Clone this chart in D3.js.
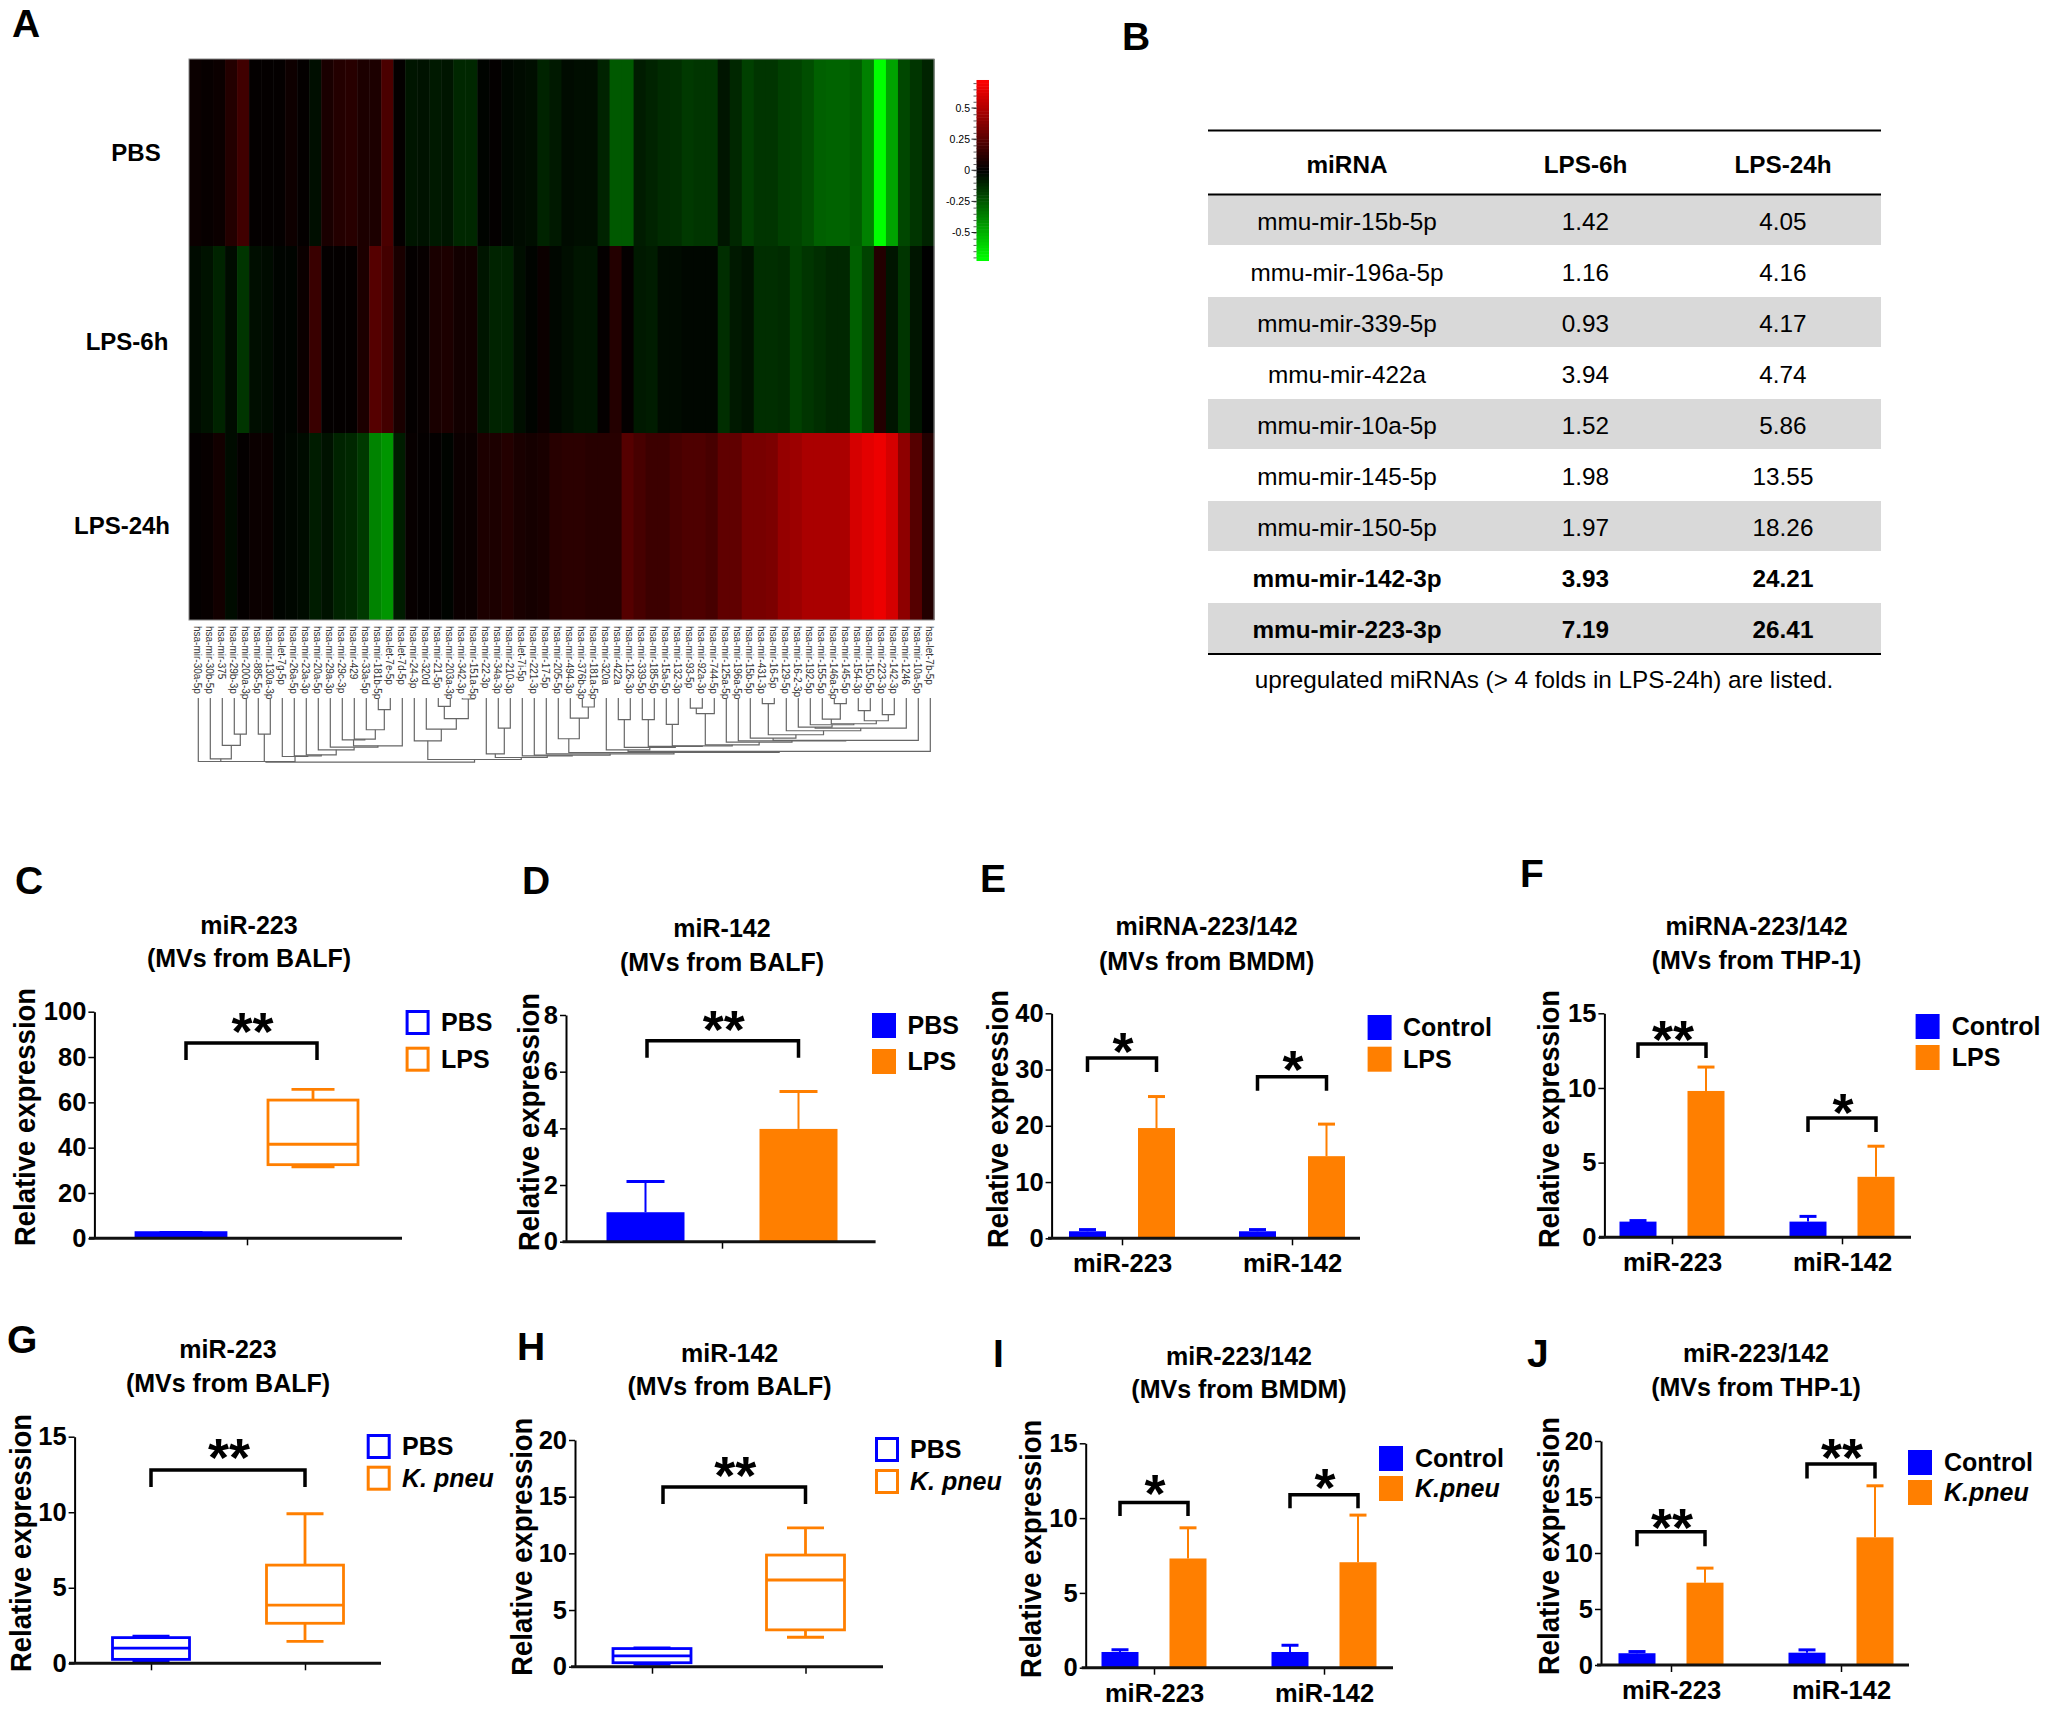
<!DOCTYPE html>
<html>
<head>
<meta charset="utf-8">
<script src="https://cdn.jsdelivr.net/npm/d3@7"></script>
<style>
	body { margin: 0; background: #fff; }
	svg { display: block; }
	text { font-family: "Liberation Sans", Arial, sans-serif; fill: #000; }
	.axis text { font-size: 25.5px; font-weight: bold; }
	.leaf { font-size: 10px; fill: #333; }
</style>
</head>
<body>
<svg id="fig" width="2050" height="1712"></svg>
<script>
// heatmap values, one per miRNA
var mirnas = ["30a-5p","30b-5p","375","29b-3p","200a-3p","885-5p","130a-3p","let-7g-5p","26a-5p","23a-3p","20a-5p","29a-3p","29c-3p","429","33a-5p","181b-5p","let-7e-5p","let-7d-5p","24-3p","320d","21-5p","203a-3p","342-3p","151a-5p","22-3p","34a-3p","210-3p","let-7i-5p","221-3p","17-5p","205-5p","494-3p","376b-3p","181a-5p","320a","422a","126-3p","339-5p","185-5p","15a-5p","132-3p","93-5p","92a-3p","744-5p","125a-5p","196a-5p","15b-5p","431-3p","16-5p","129-5p","16-2-3p","192-5p","155-5p","146a-5p","145-5p","154-3p","150-5p","223-3p","142-3p","1246","10a-5p","let-7b-5p"];
var heatRows = ["PBS", "LPS-6h", "LPS-24h"];
var heatPbs = [.03,.02,.03,.1,.18,.01,.01,.01,.04,.01,-.04,.07,.1,.11,.08,.08,.21,.01,-.06,-.05,-.07,-.06,-.11,-.11,-.01,.01,-.02,-.03,-.04,-.1,-.07,-.03,-.04,-.04,-.1,-.25,-.25,-.08,-.1,-.12,-.13,-.16,-.15,-.15,-.06,-.11,-.18,-.15,-.15,-.18,-.19,-.22,-.27,-.28,-.28,-.26,-.36,-.72,-.46,-.2,-.15,-.1];
var heat6h = [-.03,-.05,-.1,-.03,-.15,-.04,-.03,-.01,-.01,.03,.16,.01,.01,.01,.08,.24,.19,.07,.01,.02,.07,.08,.05,.05,-.06,-.1,-.1,-.04,-.01,.03,-.02,-.04,-.06,-.06,.01,.1,.01,-.07,-.08,-.03,-.03,-.02,-.02,-.02,-.13,-.07,-.05,-.13,-.13,-.12,-.18,-.15,-.13,-.11,-.11,-.27,-.19,.1,-.06,-.15,-.06,0];
var heat24h = [.01,.02,.05,-.03,.01,.03,.03,-.01,-.02,-.03,-.08,-.05,-.1,-.11,-.16,-.37,-.42,-.08,.02,.01,.01,-.01,.03,.03,.08,.08,.1,.07,.06,.07,.11,.12,.12,.11,.11,.11,.24,.2,.17,.17,.2,.22,.22,.2,.27,.27,.34,.34,.35,.42,.44,.48,.48,.48,.48,.6,.64,.67,.6,.4,.24,.1];
var colorTicks = [0.5, 0.25, 0, -0.25, -0.5];

// dendrogram: [merge height, left child, right child], a plain number is a leaf
var treeFirst = [455, 0, [447, 1, [407, 2, [373, 3, 4]]]];
var treeSecond = [373, 5, 6];
var treeThird = [440, 7, [438, 8, [435, 9, [420, 10, [412, 11, [408, [390, 12, [388, 13, [360, 14, [300, 15, 16]]]], 17]]]]]];
var treeFourth = [393, 18, [358, 19, [327, [290, 20, 21], [268, 22, 23]]]];
var treeFifth = [432, 24, [355, 25, 26]];
var treeTail = [392, [385, 46, [375, [282, 47, 48], [363, 49, [355, [352, 50, [345, 51, [342, [328, 52, [282, 53, 54]], [333, [303, 55, 56], [315, 57, 58]]]]], 59]]]], 60];
var treeMiddle = [405, [312, [295, 41, 42], 43], [397, 44, [393, 45, treeTail]]];
var treeRight = [428, [387, 30, [325, 31, [292, 32, 33]]], [425, [420, 34, [413, [330, 35, 36], [410, [330, 37, 38], [408, [344, 39, 40], treeMiddle]]]], 61]];
var treeRoot = [457, [455, [455, treeFirst, treeSecond], treeThird], [449, treeFourth, [443, treeFifth, [438, 27, [436, 28, [432, 29, treeRight]]]]]];

// table B
var tableHead = ["miRNA", "LPS-6h", "LPS-24h"];
var tableMirna = ["mmu-mir-15b-5p","mmu-mir-196a-5p","mmu-mir-339-5p","mmu-mir-422a","mmu-mir-10a-5p","mmu-mir-145-5p","mmu-mir-150-5p","mmu-mir-142-3p","mmu-mir-223-3p"];
var table6h = ["1.42","1.16","0.93","3.94","1.52","1.98","1.97","3.93","7.19"];
var table24h = ["4.05","4.16","4.17","4.74","5.86","13.55","18.26","24.21","26.41"];

// box plots: low whisker, q1, median, q3, high whisker
var cPbs = [1.6, 1, 2, 2.5, 2.6];
var cLps = [31.5, 32.5, 41.5, 61, 65.7];
var gPbs = [0.15, 0.26, 1, 1.7, 1.8];
var gPneu = [1.45, 2.65, 3.85, 6.5, 9.9];
var hPbs = [0.2, 0.35, 0.95, 1.6, 1.65];
var hPneu = [2.6, 3.25, 7.65, 9.85, 12.25];

// bars: mean and top of the error bar
var dMean = [1.04, 3.98], dErr = [2.12, 5.3];
var miGroups = ["miR-223", "miR-142"];
var eControl = [1.25, 1.25], eControlErr = [1.55, 1.55], eLps = [19.6, 14.6], eLpsErr = [25.2, 20.3];
var fControl = [1.05, 1.05], fControlErr = [1.12, 1.4], fLps = [9.8, 4.05], fLpsErr = [11.4, 6.1];
var iControl = [1.05, 1.05], iControlErr = [1.2, 1.5], iPneu = [7.3, 7.05], iPneuErr = [9.35, 10.2];
var jControl = [1.05, 1.1], jControlErr = [1.2, 1.35], jPneu = [7.35, 11.4], jPneuErr = [8.65, 16];

var blue = "#0000ff", orange = "#ff7f00";
var svg = d3.select("#fig");

// text helper
function put_text(parent, str, x, y, size, bold, anchor) {
	return parent.append("text")
		.attr("x", x)
		.attr("y", y)
		.attr("font-size", size)
		.attr("font-weight", bold ? "bold" : "normal")
		.attr("text-anchor", anchor || "middle")
		.text(str);
}

// ---- letters of the panels
var letters = [["A",12,37],["B",1122,50],["C",15,894],["D",522,894],["E",980,892],["F",1520,887],["G",7,1353],["H",517,1360],["I",993,1367],["J",1527,1367]];
letters.forEach(function(d) { put_text(svg, d[0], d[1], d[2], 39, true, "start"); });

// ---- panel A
function draw_heatmap() {
	var x = d3.scaleBand().domain(d3.range(mirnas.length)).range([189, 934]);
	var y = d3.scaleBand().domain(heatRows).range([59, 620]);
	var maxV = 0.72;
	var color = d3.scaleLinear().domain([-maxV, 0, maxV]).range(["#00ff00", "#000000", "#ff0000"]);
	var rows = [heatPbs, heat6h, heat24h];

	rows.forEach(function(vals, r) {
		svg.append("g").selectAll("rect")
			.data(vals)
		.enter().append("rect")
			.attr("x", function(d, i) { return x(i); })
			.attr("y", y(heatRows[r]))
			.attr("width", x.bandwidth() + 0.5)
			.attr("height", y.bandwidth())
			.attr("fill", function(d) { return color(d); });
	});
	svg.append("rect")
		.attr("x", 189).attr("y", 59).attr("width", 745).attr("height", 561)
		.attr("fill", "none").attr("stroke", "#888").attr("stroke-width", 1);

	var rowText = [[136, 161], [127, 350], [122, 534]];
	heatRows.forEach(function(d, i) { put_text(svg, d, rowText[i][0], rowText[i][1], 24, true); });

	// leaf labels and dendrogram
	var leaf = d3.scalePoint().domain(d3.range(mirnas.length)).range([198.3, 930.3]);
	svg.append("g").selectAll("text")
		.data(mirnas)
	.enter().append("text")
		.attr("class", "leaf")
		.attr("transform", function(d, i) { return "translate(" + (leaf(i) - 4) + ",626) rotate(90)"; })
		.text(function(d) { return (d.indexOf("let") == 0 ? "hsa-" : "hsa-mir-") + d; });

	var h = d3.scaleLinear().domain([265, 455]).range([698, 761.5]);
	var tree = svg.append("g").attr("fill", "none").attr("stroke", "#666").attr("stroke-width", 1.2);
	function walk(node) {
		if (typeof node == "number") return { x: leaf(node), y: h(265) };
		var a = walk(node[1]), b = walk(node[2]), top = h(node[0]);
		tree.append("path").attr("d", "M" + a.x + "," + a.y + "V" + top + "H" + b.x + "V" + b.y);
		return { x: (a.x + b.x) / 2, y: top };
	}
	walk(treeRoot);

	// colour bar
	var cy = d3.scaleLinear().domain([-0.5, 0.5]).range([232.5, 108]);
	var steps = d3.range(-0.725, 0.725, 0.025);
	svg.append("g").selectAll("rect")
		.data(steps)
	.enter().append("rect")
		.attr("x", 976.5)
		.attr("y", function(d) { return cy(d + 0.025); })
		.attr("width", 12.5)
		.attr("height", cy(0) - cy(0.025) + 0.5)
		.attr("fill", function(d) { return color(d + 0.0125); });
	var ca = svg.append("g").attr("transform", "translate(976.5,0)");
	ca.call(d3.axisLeft(cy).tickValues(d3.range(-0.7, 0.71, 0.05)).tickSize(3).tickFormat(""));
	ca.select(".domain").remove();
	ca.selectAll("line").attr("stroke", "#333").attr("stroke-width", 0.8);
	colorTicks.forEach(function(d) {
		ca.append("line").attr("x1", -5).attr("x2", 0).attr("y1", cy(d)).attr("y2", cy(d)).attr("stroke", "#222");
		put_text(ca, d, -6.5, cy(d) + 3.5, 10.5, false, "end").attr("fill", "#222");
	});
}
draw_heatmap();

// ---- panel B
function draw_table() {
	var left = 1208, right = 1881, top = 195, rowH = 51;
	var cols = [1347, 1585.5, 1783];
	tableHead.forEach(function(d, i) { put_text(svg, d, cols[i], 173, 24.3, true); });
	tableMirna.forEach(function(d, i) {
		var y = top + i * rowH, bold = i >= 7;
		if (i % 2 == 0) svg.append("rect").attr("x", left).attr("y", y).attr("width", right - left).attr("height", rowH - 1).attr("fill", "#d9d9d9");
		put_text(svg, d, cols[0], y + 34.5, 24.3, bold);
		put_text(svg, table6h[i], cols[1], y + 34.5, 24.3, bold);
		put_text(svg, table24h[i], cols[2], y + 34.5, 24.3, bold);
	});
	[130.5, 194.5, 654].forEach(function(y) {
		svg.append("line").attr("x1", left).attr("x2", right).attr("y1", y).attr("y2", y).attr("stroke", "#000").attr("stroke-width", 2);
	});
	put_text(svg, "upregulated miRNAs (> 4 folds in LPS-24h) are listed.", 1544, 688, 24.3, false);
}
draw_table();

// ---- panels C to J
function bars_of(groups, names, means, errs) {
	var out = [];
	groups.forEach(function(g, i) {
		names.forEach(function(s, k) {
			out.push({ group: g, series: s, color: k ? orange : blue, mean: means[k][i], err: errs[k][i] });
		});
	});
	return out;
}

var panels = [
	{ title: ["miR-223", "(MVs from BALF)"], tx: 249, ty: [925, 958], ylabel: [24, 1117], ymax: 100, yticks: [0,20,40,60,80,100],
	  y0: 1238.3, y1: 1011.7, ax: 94.4, xr: [89, 402], groups: ["all"], gx: [247, 247], names: ["PBS", "LPS"], off: 66, blank: true, w: 90, cap: 43,
	  boxes: [{ group: "all", series: "PBS", color: blue, v: cPbs }, { group: "all", series: "LPS", color: orange, v: cLps }],
	  brackets: [{ v: 86.2, drop: 17, a: ["all", "PBS"], b: ["all", "LPS"], stars: "**", up: 21, inL: 5, inR: 4 }],
	  legend: [405.6, [1010, 1046.7], 441] },
	{ title: ["miR-142", "(MVs from BALF)"], tx: 722, ty: [928, 962], ylabel: [528, 1122], ymax: 8, yticks: [0,2,4,6,8],
	  y0: 1241.7, y1: 1015, ax: 566, xr: [562.5, 875.6], groups: ["all"], gx: [722, 722], names: ["PBS", "LPS"], off: 76.5, blank: true, w: 78, cap: 38,
	  bars: bars_of(["all"], ["PBS", "LPS"], [[dMean[0]], [dMean[1]]], [[dErr[0]], [dErr[1]]]),
	  brackets: [{ v: 7.09, drop: 17, a: ["all", "PBS"], b: ["all", "LPS"], stars: "**", up: 21, inL: 1.5, inR: 0 }],
	  legend: [872, [1013, 1049], 907.5], solid: true },
	{ title: ["miRNA-223/142", "(MVs from BMDM)"], tx: 1206.6, ty: [926, 960.7], ylabel: [997, 1119], ymax: 40, yticks: [0,10,20,30,40],
	  y0: 1238.3, y1: 1013.3, ax: 1051.6, xr: [1048, 1360], groups: miGroups, gx: [1122, 1292], names: ["Control", "LPS"], off: 34.5, w: 37, cap: 17,
	  bars: bars_of(miGroups, ["Control", "LPS"], [eControl, eLps], [eControlErr, eLpsErr]),
	  brackets: [{ v: 32.05, drop: 14, a: ["miR-223", "Control"], b: ["miR-223", "LPS"], stars: "*", up: 16 }, { v: 28.7, drop: 14, a: ["miR-142", "Control"], b: ["miR-142", "LPS"], stars: "*", up: 17 }],
	  legend: [1367.6, [1015, 1046.7], 1403], solid: true },
	{ title: ["miRNA-223/142", "(MVs from THP-1)"], tx: 1756.6, ty: [925.7, 960], ylabel: [1548.4, 1119], ymax: 15, yticks: [0,5,10,15],
	  y0: 1237.3, y1: 1013.3, ax: 1604.4, xr: [1599, 1911], groups: miGroups, gx: [1672, 1842], names: ["Control", "LPS"], off: 34, w: 37, cap: 17,
	  bars: bars_of(miGroups, ["Control", "LPS"], [fControl, fLps], [fControlErr, fLpsErr]),
	  brackets: [{ v: 12.94, drop: 14, a: ["miR-223", "Control"], b: ["miR-223", "LPS"], stars: "**", up: 14 }, { v: 7.99, drop: 14, a: ["miR-142", "Control"], b: ["miR-142", "LPS"], stars: "*", up: 15 }],
	  legend: [1915.6, [1014, 1045], 1951.7], solid: true },
	{ title: ["miR-223", "(MVs from BALF)"], tx: 228, ty: [1349, 1382.7], ylabel: [20.4, 1543], ymax: 15, yticks: [0,5,10,15],
	  y0: 1663.3, y1: 1436.7, ax: 74.6, xr: [69, 381], groups: ["PBS", "K. pneu"], gx: [151, 305], names: ["PBS", "K. pneu"], off: 0, blank: true, w: 77, cap: 37,
	  boxes: [{ group: "PBS", series: "PBS", color: blue, v: gPbs }, { group: "K. pneu", series: "K. pneu", color: orange, v: gPneu }],
	  brackets: [{ v: 12.8, drop: 17, a: ["PBS", "PBS"], b: ["K. pneu", "K. pneu"], stars: "**", up: 22 }],
	  legend: [366.7, [1434, 1465.7], 402] },
	{ title: ["miR-142", "(MVs from BALF)"], tx: 729.6, ty: [1352.7, 1386], ylabel: [521, 1546.7], ymax: 20, yticks: [0,5,10,15,20],
	  y0: 1666.7, y1: 1440, ax: 575, xr: [571, 883], groups: ["PBS", "K. pneu"], gx: [652, 805.5], names: ["PBS", "K. pneu"], off: 0, blank: true, w: 78, cap: 37,
	  boxes: [{ group: "PBS", series: "PBS", color: blue, v: hPbs }, { group: "K. pneu", series: "K. pneu", color: orange, v: hPneu }],
	  brackets: [{ v: 15.85, drop: 17, a: ["PBS", "PBS"], b: ["K. pneu", "K. pneu"], stars: "**", up: 21, inL: 11, inR: 0 }],
	  legend: [875, [1437, 1469], 910] },
	{ title: ["miR-223/142", "(MVs from BMDM)"], tx: 1239, ty: [1356, 1389], ylabel: [1030, 1548.8], ymax: 15, yticks: [0,5,10,15],
	  y0: 1667.7, y1: 1443.3, ax: 1085.7, xr: [1081.7, 1393], groups: miGroups, gx: [1154, 1324], names: ["Control", "K.pneu"], off: 34, w: 37, cap: 17,
	  bars: bars_of(miGroups, ["Control", "K.pneu"], [iControl, iPneu], [iControlErr, iPneuErr]),
	  brackets: [{ v: 11.05, drop: 13.5, a: ["miR-223", "Control"], b: ["miR-223", "K.pneu"], stars: "*", up: 18.7 }, { v: 11.56, drop: 13.5, a: ["miR-142", "Control"], b: ["miR-142", "K.pneu"], stars: "*", up: 16.7 }],
	  legend: [1379, [1446, 1476], 1415], solid: true },
	{ title: ["miR-223/142", "(MVs from THP-1)"], tx: 1756, ty: [1353, 1386.7], ylabel: [1547.8, 1546], ymax: 20, yticks: [0,5,10,15,20],
	  y0: 1665, y1: 1441, ax: 1601, xr: [1597, 1909], groups: miGroups, gx: [1671, 1841], names: ["Control", "K.pneu"], off: 34, w: 37, cap: 17,
	  bars: bars_of(miGroups, ["Control", "K.pneu"], [jControl, jPneu], [jControlErr, jPneuErr]),
	  brackets: [{ v: 11.9, drop: 14.5, a: ["miR-223", "Control"], b: ["miR-223", "K.pneu"], stars: "**", up: 13.7 }, { v: 17.95, drop: 14.5, a: ["miR-142", "Control"], b: ["miR-142", "K.pneu"], stars: "**", up: 16 }],
	  legend: [1908, [1450, 1480], 1944], solid: true }
];

function draw_panel(p) {
	var g = svg.append("g");
	var y = d3.scaleLinear().domain([0, p.ymax]).range([p.y0, p.y1]);
	var gx = d3.scalePoint().domain(p.groups).range(p.gx);
	var sx = d3.scalePoint().domain(p.names).range([-p.off, p.off]);
	function cx(group, series) { return gx(group) + sx(series); }

	// titles
	p.title.forEach(function(t, i) { put_text(g, t, p.tx, p.ty[i] + 9, 25, true); });
	g.append("text")
		.attr("transform", "translate(" + p.ylabel[0] + "," + p.ylabel[1] + ") rotate(-90) scale(1,1.08)")
		.attr("dy", "0.36em")
		.attr("text-anchor", "middle")
		.attr("font-size", 27.5)
		.attr("font-weight", "bold")
		.text("Relative expression");

	// bars with error bars
	(p.bars || []).forEach(function(d) {
		var x = cx(d.group, d.series);
		g.append("line").attr("x1", x).attr("x2", x).attr("y1", y(d.mean)).attr("y2", y(d.err)).attr("stroke", d.color).attr("stroke-width", 2);
		g.append("line").attr("x1", x - p.cap / 2).attr("x2", x + p.cap / 2).attr("y1", y(d.err)).attr("y2", y(d.err)).attr("stroke", d.color).attr("stroke-width", 3);
		g.append("rect").attr("x", x - p.w / 2).attr("y", y(d.mean)).attr("width", p.w).attr("height", y(0) - y(d.mean)).attr("fill", d.color);
	});

	// box plots
	(p.boxes || []).forEach(function(d) {
		var x = cx(d.group, d.series), v = d.v;
		var s = g.append("g").attr("stroke", d.color).attr("stroke-width", 2.8).attr("fill", "none");
		s.append("line").attr("x1", x).attr("x2", x).attr("y1", y(v[3])).attr("y2", y(v[4]));
		s.append("line").attr("x1", x).attr("x2", x).attr("y1", y(v[1])).attr("y2", y(v[0]));
		[v[0], v[4]].forEach(function(c) {
			s.append("line").attr("x1", x - p.cap / 2).attr("x2", x + p.cap / 2).attr("y1", y(c)).attr("y2", y(c));
		});
		s.append("rect").attr("x", x - p.w / 2).attr("y", y(v[3])).attr("width", p.w).attr("height", y(v[1]) - y(v[3]));
		s.append("line").attr("x1", x - p.w / 2).attr("x2", x + p.w / 2).attr("y1", y(v[2])).attr("y2", y(v[2]));
	});

	// axes
	var ya = g.append("g").attr("class", "axis").attr("transform", "translate(" + p.ax + ",0)")
		.call(d3.axisLeft(y).tickValues(p.yticks).tickSize(6).tickPadding(2).tickSizeOuter(0));
	ya.selectAll("line").attr("stroke", "#000").attr("stroke-width", 1.5);
	ya.select(".domain").attr("stroke", "#000").attr("stroke-width", 2);

	var xaxis = d3.axisBottom(gx).tickSize(7).tickPadding(9);
	if (p.blank) xaxis.tickFormat("");
	var xa = g.append("g").attr("class", "axis").attr("transform", "translate(0," + p.y0 + ")").call(xaxis);
	xa.select(".domain").remove();
	xa.selectAll("line").attr("stroke", "#000").attr("stroke-width", 1.5);
	g.append("line").attr("x1", p.xr[0]).attr("x2", p.xr[1]).attr("y1", p.y0).attr("y2", p.y0).attr("stroke", "#111").attr("stroke-width", 3);

	// significance brackets
	p.brackets.forEach(function(b) {
		var x0 = cx(b.a[0], b.a[1]) + (b.inL || 0), x1 = cx(b.b[0], b.b[1]) + (b.inR || 0), top = y(b.v);
		g.append("path")
			.attr("d", "M" + x0 + "," + (top + b.drop) + "V" + top + "H" + x1 + "V" + (top + b.drop))
			.attr("fill", "none").attr("stroke", "#000").attr("stroke-width", 3.5);
		put_text(g, b.stars, (x0 + x1) / 2 + 1, top - b.up + 28, 54, true);
	});

	// legend
	p.names.forEach(function(n, i) {
		var r = g.append("rect").attr("y", p.legend[1][i]);
		if (p.solid) {
			r.attr("x", p.legend[0]).attr("width", 24).attr("height", 25).attr("fill", i ? orange : blue);
		} else {
			r.attr("x", p.legend[0] + 1.5).attr("width", 21).attr("height", 22).attr("fill", "none")
				.attr("stroke", i ? orange : blue).attr("stroke-width", 3).attr("y", p.legend[1][i] + 1.5);
		}
		var t = put_text(g, n, p.legend[2], p.legend[1][i] + 21, 25, true, "start");
		if (n.indexOf("K.") == 0) t.attr("font-style", "italic");
	});
}

panels.forEach(draw_panel);
</script>
</body>
</html>
